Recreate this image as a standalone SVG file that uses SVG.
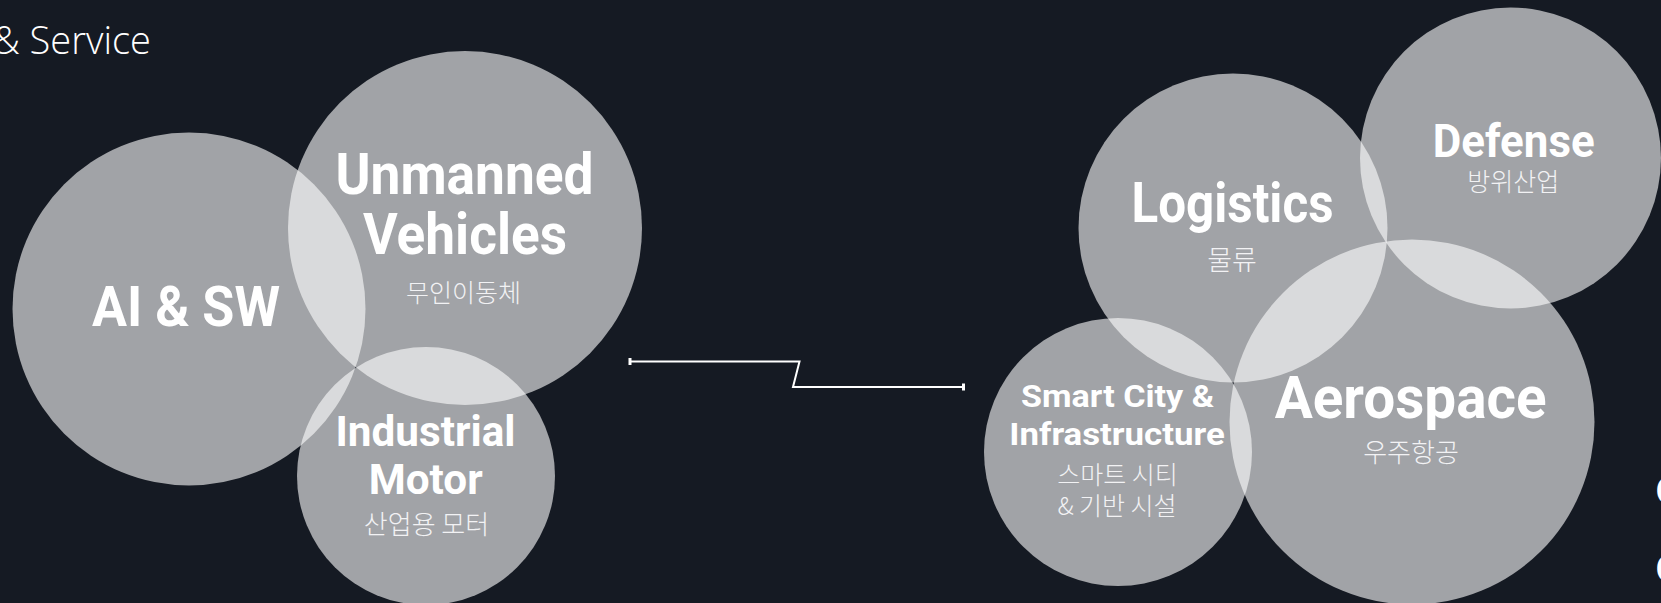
<svg xmlns="http://www.w3.org/2000/svg" width="1661" height="603" viewBox="0 0 1661 603">
<style>
.bg{fill:#151a23}
.c{fill:#ffffff;fill-opacity:0.6}
.t{font-family:Roboto,"Liberation Sans",sans-serif;font-weight:700;fill:#ffffff;text-anchor:middle}
.k{font-family:"Noto Sans CJK KR","Noto Sans",sans-serif;font-weight:300;fill:#f2f2f4;text-anchor:middle}
.h{font-family:"Open Sans",Lato,"Liberation Sans",sans-serif;font-weight:300;fill:#ffffff}
.conn{fill:none;stroke:#ffffff;stroke-width:2}
</style>
<defs>
<marker id="tick" markerUnits="userSpaceOnUse" markerWidth="4" markerHeight="8" viewBox="0 0 4 8" refX="2" refY="4" orient="auto">
<rect x="0.5" y="0.5" width="3" height="7" fill="#ffffff"/>
</marker>
</defs>
<rect class="bg" x="0" y="0" width="1661" height="603"/>
<text class="h" x="151" y="54" font-size="38" text-anchor="end">&amp; Service</text>

<g id="ai-sw">
<circle class="c" cx="189" cy="309" r="176.5"/>
<text class="t" x="186" y="326" font-size="55" textLength="188" lengthAdjust="spacingAndGlyphs">AI &amp; SW</text>
</g>
<g id="unmanned-vehicles">
<circle class="c" cx="465" cy="228" r="177"/>
<text class="t" x="464.5" y="194" font-size="57" textLength="258" lengthAdjust="spacingAndGlyphs">Unmanned</text>
<text class="t" x="465" y="254" font-size="57" textLength="204" lengthAdjust="spacingAndGlyphs">Vehicles</text>
<text class="k" x="463.5" y="302" font-size="25">무인이동체</text>
</g>
<g id="industrial-motor">
<circle class="c" cx="426" cy="476" r="129"/>
<text class="t" x="425.5" y="445.5" font-size="43" textLength="180" lengthAdjust="spacingAndGlyphs">Industrial</text>
<text class="t" x="425.7" y="494" font-size="43" textLength="114" lengthAdjust="spacingAndGlyphs">Motor</text>
<text class="k" x="426.5" y="533.5" font-size="26">산업용 모터</text>
</g>

<g id="connectors">
<path class="conn" d="M630 361.5 H799.5 L793 387 H963.5" marker-start="url(#tick)" marker-end="url(#tick)"/>
</g>

<g id="logistics">
<circle class="c" cx="1233" cy="228" r="154.5"/>
<text class="t" x="1232.5" y="221.5" font-size="55" textLength="202" lengthAdjust="spacingAndGlyphs">Logistics</text>
<text class="k" x="1232" y="269.5" font-size="27">물류</text>
</g>
<g id="defense">
<circle class="c" cx="1510.5" cy="158" r="150.5"/>
<text class="t" x="1513.7" y="156.5" font-size="46" textLength="162" lengthAdjust="spacingAndGlyphs">Defense</text>
<text class="k" x="1513.2" y="190.5" font-size="25">방위산업</text>
</g>
<g id="smart-city">
<circle class="c" cx="1118" cy="452" r="134"/>
<text class="t" x="1117.6" y="407" font-size="32" textLength="193" lengthAdjust="spacingAndGlyphs">Smart City &amp;</text>
<text class="t" x="1117" y="445" font-size="32" textLength="215.5" lengthAdjust="spacingAndGlyphs">Infrastructure</text>
<text class="k" x="1117.4" y="483.5" font-size="25">스마트 시티</text>
<text class="k" x="1117" y="514.5" font-size="25">&amp; 기반 시설</text>
</g>
<g id="aerospace">
<circle class="c" cx="1412" cy="422" r="182.5"/>
<text class="t" x="1410.7" y="418" font-size="60" textLength="272" lengthAdjust="spacingAndGlyphs">Aerospace</text>
<text class="k" x="1411" y="461.5" font-size="26">우주항공</text>
</g>

<text x="1655.5" y="505" font-family="'Liberation Sans',sans-serif" font-weight="700" font-size="42" fill="#ffffff">O</text>
<text x="1655.5" y="583" font-family="'Liberation Sans',sans-serif" font-weight="700" font-size="42" fill="#ffffff">O</text>
</svg>
